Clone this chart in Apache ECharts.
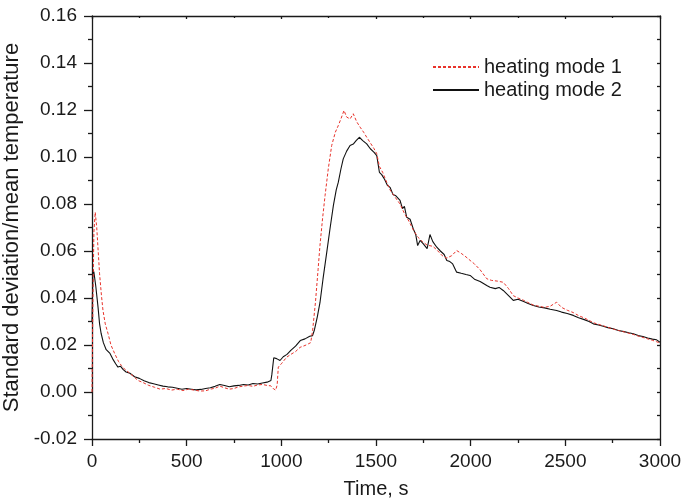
<!DOCTYPE html>
<html>
<head>
<meta charset="utf-8">
<script src="https://cdn.jsdelivr.net/npm/echarts@6/dist/echarts.min.js"></script>
<style>html,body{margin:0;padding:0;background:#fff}#c{width:683px;height:501px}</style>
</head>
<body>
<div id="c"></div>
<script>
var seriesNames = ['heating mode 1', 'heating mode 2'];
var xTickLabels = [0, 500, 1000, 1500, 2000, 2500, 3000];
var yTickLabels = ['-0.02', '0.00', '0.02', '0.04', '0.06', '0.08', '0.10', '0.12', '0.14', '0.16'];

var mode1Time = [0, 5, 10, 17, 25, 40, 50, 58, 70, 85, 100, 120, 140, 155, 175, 200, 225, 243, 270, 300, 331, 360, 390, 420, 450, 480, 510, 540, 570, 600, 625, 650, 675, 700, 725, 750, 775, 800, 825, 850, 875, 900, 925, 945, 958, 970, 978, 984, 1000, 1028, 1050, 1075, 1099, 1125, 1143, 1155, 1165, 1180, 1194, 1204, 1218, 1231, 1248, 1266, 1285, 1301, 1316, 1331, 1345, 1363, 1380, 1398, 1416, 1435, 1451, 1470, 1490, 1504, 1518, 1535, 1550, 1574, 1600, 1627, 1650, 1675, 1697, 1720, 1745, 1770, 1800, 1821, 1850, 1874, 1900, 1926, 1950, 1975, 1997, 2020, 2050, 2085, 2110, 2140, 2172, 2200, 2225, 2250, 2280, 2300, 2331, 2360, 2390, 2420, 2454, 2480, 2510, 2542, 2570, 2600, 2625, 2648, 2675, 2700, 2725, 2753, 2780, 2810, 2835, 2859, 2885, 2910, 2935, 2960, 2982, 3000];
var mode1Value = [0.0, 0.040, 0.068, 0.0765, 0.070, 0.0503, 0.041, 0.0347, 0.029, 0.0248, 0.020, 0.0163, 0.013, 0.0113, 0.0095, 0.008, 0.0062, 0.0049, 0.004, 0.0028, 0.002, 0.0012, 0.0015, 0.0008, 0.0012, 0.0006, 0.0012, 0.0008, 0.0004, 0.0005, 0.0012, 0.0016, 0.0025, 0.0018, 0.0012, 0.0015, 0.0022, 0.0025, 0.0028, 0.0024, 0.0030, 0.0032, 0.0028, 0.0026, 0.0014, 0.0008, 0.0030, 0.0106, 0.0120, 0.0148, 0.0160, 0.0172, 0.0190, 0.0198, 0.0205, 0.0210, 0.0260, 0.038, 0.052, 0.0623, 0.074, 0.0836, 0.095, 0.1049, 0.1105, 0.1134, 0.1165, 0.1198, 0.1170, 0.1162, 0.1184, 0.1150, 0.1127, 0.1105, 0.1084, 0.1060, 0.1035, 0.1014, 0.0960, 0.0935, 0.0905, 0.0860, 0.0830, 0.0800, 0.0760, 0.0725, 0.0690, 0.0660, 0.0640, 0.0625, 0.0620, 0.0605, 0.0580, 0.0570, 0.0580, 0.0602, 0.0590, 0.0575, 0.0560, 0.0545, 0.0520, 0.0482, 0.0475, 0.0472, 0.0467, 0.0440, 0.0410, 0.0400, 0.0390, 0.0382, 0.0370, 0.0365, 0.0360, 0.0365, 0.0382, 0.0360, 0.0348, 0.0338, 0.0325, 0.0315, 0.0305, 0.0295, 0.0288, 0.0282, 0.0275, 0.0268, 0.0262, 0.0256, 0.0250, 0.0245, 0.0238, 0.0232, 0.0226, 0.0220, 0.0214, 0.0208];

var mode2Time = [0, 5, 10, 20, 32, 40, 48, 60, 75, 95, 110, 125, 137, 150, 165, 180, 200, 225, 250, 275, 300, 325, 350, 375, 400, 425, 450, 475, 500, 525, 550, 575, 600, 625, 650, 675, 700, 725, 750, 775, 800, 825, 850, 875, 900, 925, 945, 950, 960, 975, 993, 1010, 1030, 1050, 1075, 1100, 1125, 1150, 1165, 1175, 1190, 1204, 1220, 1240, 1258, 1275, 1290, 1301, 1315, 1327, 1345, 1363, 1380, 1395, 1412, 1430, 1451, 1470, 1490, 1504, 1518, 1530, 1545, 1560, 1574, 1590, 1605, 1627, 1640, 1650, 1662, 1680, 1697, 1710, 1720, 1733, 1750, 1770, 1785, 1800, 1821, 1840, 1860, 1874, 1890, 1905, 1926, 1950, 1975, 1997, 2020, 2050, 2085, 2102, 2130, 2150, 2172, 2200, 2225, 2250, 2280, 2300, 2331, 2360, 2390, 2420, 2454, 2480, 2510, 2542, 2570, 2600, 2625, 2648, 2675, 2700, 2725, 2753, 2780, 2810, 2835, 2859, 2885, 2910, 2935, 2960, 2982, 3000];
var mode2Value = [0.030, 0.052, 0.051, 0.045, 0.036, 0.029, 0.025, 0.021, 0.018, 0.0164, 0.014, 0.012, 0.0106, 0.011, 0.0095, 0.0085, 0.008, 0.0065, 0.0058, 0.0048, 0.004, 0.0035, 0.003, 0.0025, 0.0022, 0.002, 0.0016, 0.0012, 0.0015, 0.0012, 0.0009, 0.0011, 0.0015, 0.0018, 0.0024, 0.0032, 0.0028, 0.0022, 0.0026, 0.0028, 0.0032, 0.003, 0.0036, 0.0034, 0.0038, 0.0042, 0.0049, 0.0075, 0.0146, 0.0142, 0.0134, 0.0150, 0.0160, 0.0177, 0.0195, 0.0219, 0.0226, 0.0237, 0.0240, 0.0265, 0.032, 0.038, 0.048, 0.0595, 0.070, 0.0794, 0.086, 0.0893, 0.095, 0.0992, 0.1025, 0.1049, 0.1055, 0.1070, 0.1084, 0.1070, 0.1056, 0.1035, 0.1020, 0.1006, 0.0935, 0.0925, 0.0905, 0.0880, 0.0871, 0.0840, 0.0835, 0.0815, 0.0780, 0.0790, 0.0744, 0.0735, 0.0694, 0.0670, 0.0623, 0.0645, 0.0630, 0.0610, 0.0670, 0.0640, 0.0616, 0.0600, 0.0585, 0.0560, 0.0555, 0.0545, 0.0510, 0.0505, 0.0500, 0.0496, 0.0480, 0.0470, 0.0453, 0.0446, 0.0440, 0.0445, 0.0432, 0.0410, 0.0390, 0.0395, 0.0385, 0.0378, 0.0368, 0.0362, 0.0358, 0.0352, 0.0347, 0.0340, 0.0334, 0.0326, 0.0316, 0.0308, 0.0300, 0.0290, 0.0285, 0.0280, 0.0274, 0.0269, 0.0262, 0.0257, 0.0252, 0.0248, 0.0240, 0.0236, 0.0230, 0.0225, 0.0222, 0.0212];

function pairs(t, v) { return t.map(function (x, i) { return [x, v[i]]; }); }

var FONT = 'Liberation Sans';
var TXT = '#1a1a1a';
var chart = echarts.init(document.getElementById('c'), null, { renderer: 'canvas' });
var axisLineStyle = { color: '#1a1a1a', width: 1.3 };
chart.setOption({
  animation: false,
  backgroundColor: '#ffffff',
  grid: { left: 92, right: 23, top: 16, bottom: 62, containLabel: false, outerBoundsMode: 'none' },
  legend: {
    orient: 'vertical', left: 427, top: 52, itemWidth: 46, itemHeight: 14, itemGap: 3,
    data: seriesNames,
    itemStyle: { opacity: 0 },
    textStyle: { fontFamily: FONT, fontSize: 20, color: TXT }
  },
  xAxis: [{
    type: 'value', min: 0, max: 3000, interval: 500,
    name: 'Time, s', nameLocation: 'middle', nameGap: 40,
    nameTextStyle: { fontFamily: FONT, fontSize: 20, color: TXT },
    axisLine: { show: true, onZero: false, lineStyle: axisLineStyle },
    axisTick: { show: true, inside: false, length: 7, lineStyle: axisLineStyle },
    minorTick: { show: true, splitNumber: 2, length: 4, lineStyle: axisLineStyle },
    splitLine: { show: false },
    axisLabel: { fontFamily: FONT, fontSize: 19, color: TXT, margin: 13,
      formatter: function (v) { return xTickLabels.indexOf(v) >= 0 ? String(v) : ''; } }
  }, {
    type: 'value', position: 'top', min: 0, max: 3000, interval: 500,
    axisLine: { show: true, onZero: false, lineStyle: axisLineStyle },
    axisTick: { show: true, inside: true, length: 3, lineStyle: axisLineStyle },
    minorTick: { show: true, splitNumber: 2, length: 2, lineStyle: axisLineStyle },
    splitLine: { show: false }, axisLabel: { show: false }
  }],
  yAxis: [{
    type: 'value', min: -0.02, max: 0.16, interval: 0.02,
    name: 'Standard deviation/mean temperature', nameLocation: 'middle', nameGap: 58,
    nameTextStyle: { fontFamily: FONT, fontSize: 22, color: TXT },
    axisLine: { show: true, onZero: false, lineStyle: axisLineStyle },
    axisTick: { show: true, inside: false, length: 8, lineStyle: axisLineStyle },
    minorTick: { show: true, splitNumber: 2, length: 4, lineStyle: axisLineStyle },
    splitLine: { show: false },
    axisLabel: { fontFamily: FONT, fontSize: 19, color: TXT, margin: 15,
      formatter: function (v) {
        var s = v.toFixed(2); if (s === '-0.00') s = '0.00';
        return yTickLabels.indexOf(s) >= 0 ? s : '';
      } }
  }, {
    type: 'value', position: 'right', min: -0.02, max: 0.16, interval: 0.02,
    axisLine: { show: true, onZero: false, lineStyle: axisLineStyle },
    axisTick: { show: true, inside: true, length: 3, lineStyle: axisLineStyle },
    minorTick: { show: true, splitNumber: 2, length: 3, lineStyle: axisLineStyle },
    splitLine: { show: false }, axisLabel: { show: false }
  }],
  series: [{
    name: seriesNames[0], type: 'line', xAxisIndex: 0, yAxisIndex: 0,
    symbol: 'none', showSymbol: false,
    lineStyle: { color: '#e8332b', width: 1, type: [3, 2] },
    itemStyle: { color: '#e8332b' },
    data: pairs(mode1Time, mode1Value), z: 3
  }, {
    name: seriesNames[1], type: 'line', xAxisIndex: 0, yAxisIndex: 0,
    symbol: 'none', showSymbol: false,
    lineStyle: { color: '#111111', width: 1.1 },
    itemStyle: { color: '#111111' },
    data: pairs(mode2Time, mode2Value), z: 2
  }]
});
</script>
</body>
</html>
